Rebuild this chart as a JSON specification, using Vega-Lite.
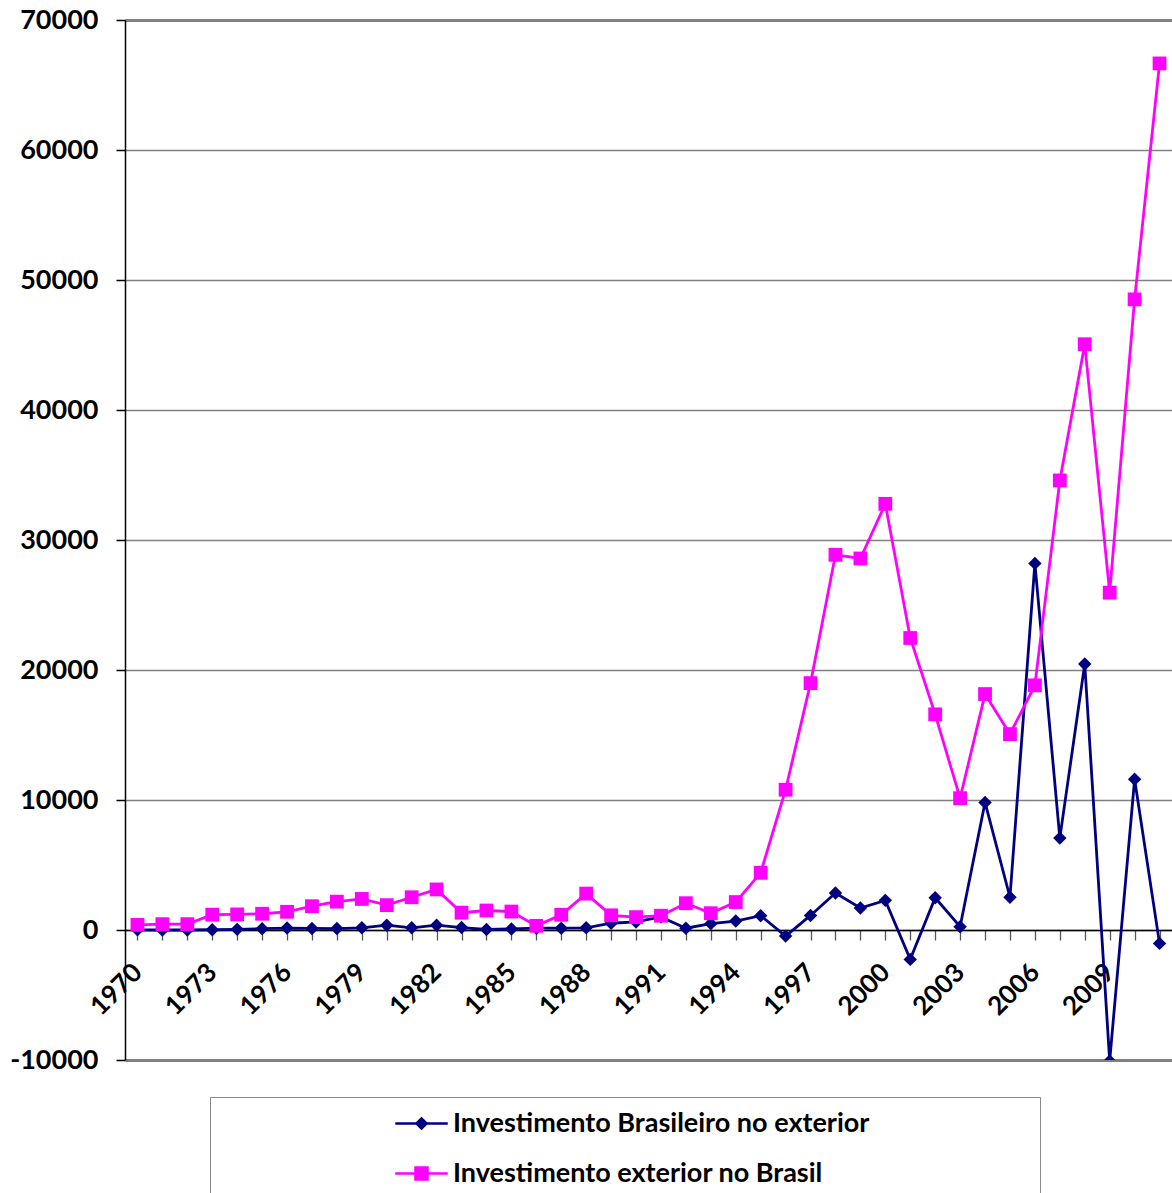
{
  "$schema": "https://vega.github.io/schema/vega-lite/v6.json",
  "width": 1047,
  "height": 1040,
  "autosize": {"type": "none"},
  "padding": {"left": 125, "top": 20, "right": 0, "bottom": 133},
  "background": "white",
  "config": {"view": {"stroke": null}, "font": "Lato"},
  "data": {"values": [
    {"ano": "1970", "serie": "Investimento Brasileiro no exterior", "valor": 10},
    {"ano": "1971", "serie": "Investimento Brasileiro no exterior", "valor": 0},
    {"ano": "1972", "serie": "Investimento Brasileiro no exterior", "valor": 0},
    {"ano": "1973", "serie": "Investimento Brasileiro no exterior", "valor": 20},
    {"ano": "1974", "serie": "Investimento Brasileiro no exterior", "valor": 50},
    {"ano": "1975", "serie": "Investimento Brasileiro no exterior", "valor": 100},
    {"ano": "1976", "serie": "Investimento Brasileiro no exterior", "valor": 150},
    {"ano": "1977", "serie": "Investimento Brasileiro no exterior", "valor": 120},
    {"ano": "1978", "serie": "Investimento Brasileiro no exterior", "valor": 110},
    {"ano": "1979", "serie": "Investimento Brasileiro no exterior", "valor": 170},
    {"ano": "1980", "serie": "Investimento Brasileiro no exterior", "valor": 370},
    {"ano": "1981", "serie": "Investimento Brasileiro no exterior", "valor": 170},
    {"ano": "1982", "serie": "Investimento Brasileiro no exterior", "valor": 370},
    {"ano": "1983", "serie": "Investimento Brasileiro no exterior", "valor": 190},
    {"ano": "1984", "serie": "Investimento Brasileiro no exterior", "valor": 40},
    {"ano": "1985", "serie": "Investimento Brasileiro no exterior", "valor": 80},
    {"ano": "1986", "serie": "Investimento Brasileiro no exterior", "valor": 140},
    {"ano": "1987", "serie": "Investimento Brasileiro no exterior", "valor": 140},
    {"ano": "1988", "serie": "Investimento Brasileiro no exterior", "valor": 170},
    {"ano": "1989", "serie": "Investimento Brasileiro no exterior", "valor": 520},
    {"ano": "1990", "serie": "Investimento Brasileiro no exterior", "valor": 620},
    {"ano": "1991", "serie": "Investimento Brasileiro no exterior", "valor": 1010},
    {"ano": "1992", "serie": "Investimento Brasileiro no exterior", "valor": 140},
    {"ano": "1993", "serie": "Investimento Brasileiro no exterior", "valor": 490},
    {"ano": "1994", "serie": "Investimento Brasileiro no exterior", "valor": 690},
    {"ano": "1995", "serie": "Investimento Brasileiro no exterior", "valor": 1100},
    {"ano": "1996", "serie": "Investimento Brasileiro no exterior", "valor": -470},
    {"ano": "1997", "serie": "Investimento Brasileiro no exterior", "valor": 1120},
    {"ano": "1998", "serie": "Investimento Brasileiro no exterior", "valor": 2850},
    {"ano": "1999", "serie": "Investimento Brasileiro no exterior", "valor": 1690},
    {"ano": "2000", "serie": "Investimento Brasileiro no exterior", "valor": 2280},
    {"ano": "2001", "serie": "Investimento Brasileiro no exterior", "valor": -2260},
    {"ano": "2002", "serie": "Investimento Brasileiro no exterior", "valor": 2480},
    {"ano": "2003", "serie": "Investimento Brasileiro no exterior", "valor": 250},
    {"ano": "2004", "serie": "Investimento Brasileiro no exterior", "valor": 9810},
    {"ano": "2005", "serie": "Investimento Brasileiro no exterior", "valor": 2520},
    {"ano": "2006", "serie": "Investimento Brasileiro no exterior", "valor": 28200},
    {"ano": "2007", "serie": "Investimento Brasileiro no exterior", "valor": 7070},
    {"ano": "2008", "serie": "Investimento Brasileiro no exterior", "valor": 20460},
    {"ano": "2009", "serie": "Investimento Brasileiro no exterior", "valor": -10080},
    {"ano": "2010", "serie": "Investimento Brasileiro no exterior", "valor": 11590},
    {"ano": "2011", "serie": "Investimento Brasileiro no exterior", "valor": -1030},
    {"ano": "1970", "serie": "Investimento exterior no Brasil", "valor": 390},
    {"ano": "1971", "serie": "Investimento exterior no Brasil", "valor": 450},
    {"ano": "1972", "serie": "Investimento exterior no Brasil", "valor": 450},
    {"ano": "1973", "serie": "Investimento exterior no Brasil", "valor": 1180},
    {"ano": "1974", "serie": "Investimento exterior no Brasil", "valor": 1200},
    {"ano": "1975", "serie": "Investimento exterior no Brasil", "valor": 1250},
    {"ano": "1976", "serie": "Investimento exterior no Brasil", "valor": 1400},
    {"ano": "1977", "serie": "Investimento exterior no Brasil", "valor": 1830},
    {"ano": "1978", "serie": "Investimento exterior no Brasil", "valor": 2180},
    {"ano": "1979", "serie": "Investimento exterior no Brasil", "valor": 2390},
    {"ano": "1980", "serie": "Investimento exterior no Brasil", "valor": 1910},
    {"ano": "1981", "serie": "Investimento exterior no Brasil", "valor": 2520},
    {"ano": "1982", "serie": "Investimento exterior no Brasil", "valor": 3120},
    {"ano": "1983", "serie": "Investimento exterior no Brasil", "valor": 1330},
    {"ano": "1984", "serie": "Investimento exterior no Brasil", "valor": 1500},
    {"ano": "1985", "serie": "Investimento exterior no Brasil", "valor": 1420},
    {"ano": "1986", "serie": "Investimento exterior no Brasil", "valor": 320},
    {"ano": "1987", "serie": "Investimento exterior no Brasil", "valor": 1170},
    {"ano": "1988", "serie": "Investimento exterior no Brasil", "valor": 2800},
    {"ano": "1989", "serie": "Investimento exterior no Brasil", "valor": 1130},
    {"ano": "1990", "serie": "Investimento exterior no Brasil", "valor": 990},
    {"ano": "1991", "serie": "Investimento exterior no Brasil", "valor": 1100},
    {"ano": "1992", "serie": "Investimento exterior no Brasil", "valor": 2060},
    {"ano": "1993", "serie": "Investimento exterior no Brasil", "valor": 1290},
    {"ano": "1994", "serie": "Investimento exterior no Brasil", "valor": 2150},
    {"ano": "1995", "serie": "Investimento exterior no Brasil", "valor": 4400},
    {"ano": "1996", "serie": "Investimento exterior no Brasil", "valor": 10790},
    {"ano": "1997", "serie": "Investimento exterior no Brasil", "valor": 18990},
    {"ano": "1998", "serie": "Investimento exterior no Brasil", "valor": 28860},
    {"ano": "1999", "serie": "Investimento exterior no Brasil", "valor": 28580},
    {"ano": "2000", "serie": "Investimento exterior no Brasil", "valor": 32780},
    {"ano": "2001", "serie": "Investimento exterior no Brasil", "valor": 22460},
    {"ano": "2002", "serie": "Investimento exterior no Brasil", "valor": 16590},
    {"ano": "2003", "serie": "Investimento exterior no Brasil", "valor": 10140},
    {"ano": "2004", "serie": "Investimento exterior no Brasil", "valor": 18150},
    {"ano": "2005", "serie": "Investimento exterior no Brasil", "valor": 15070},
    {"ano": "2006", "serie": "Investimento exterior no Brasil", "valor": 18820},
    {"ano": "2007", "serie": "Investimento exterior no Brasil", "valor": 34580},
    {"ano": "2008", "serie": "Investimento exterior no Brasil", "valor": 45060},
    {"ano": "2009", "serie": "Investimento exterior no Brasil", "valor": 25950},
    {"ano": "2010", "serie": "Investimento exterior no Brasil", "valor": 48510},
    {"ano": "2011", "serie": "Investimento exterior no Brasil", "valor": 66660}
  ]},
  "encoding": {
    "y": {
      "field": "valor", "type": "quantitative",
      "scale": {"domain": [-10000, 70000], "nice": false, "zero": false},
      "axis": {
        "title": null,
        "values": [-10000, 0, 10000, 20000, 30000, 40000, 50000, 60000, 70000],
        "labelExpr": "'' + datum.value",
        "labelFontSize": 27, "labelFontWeight": "bold", "labelColor": "black",
        "labelPadding": 18, "tickSize": 9, "tickColor": "black", "tickWidth": 1.5,
        "domainColor": "black", "domainWidth": 1.5,
        "grid": true, "gridColor": "#808080",
        "gridWidth": {"condition": {"test": "datum.value == 70000 || datum.value == -10000", "value": 3}, "value": 1.3}
      }
    },
    "color": {
      "field": "serie", "type": "nominal",
      "scale": {"domain": ["Investimento Brasileiro no exterior", "Investimento exterior no Brasil"], "range": ["#000080", "#FF00FF"]},
      "legend": {
        "title": null, "orient": "none", "legendX": 85, "legendY": 1077, "direction": "vertical",
        "padding": 10, "strokeColor": "#888888", "fillColor": "white",
        "symbolSize": 900, "symbolOffset": 185, "labelOffset": 15, "rowPadding": 20,
        "labelFontSize": 27, "labelFontWeight": "bold", "labelColor": "black", "labelLimit": 2000,
        "labelExpr": "datum.label + '\u2800\u2800\u2800\u2800\u2800\u2800\u2800\u2800'",
        "encode": {"symbols": {"update": {
          "shape": {"signal": "datum.value === 'Investimento Brasileiro no exterior' ? 'M-1.75,0H1.75M0,-0.34L0.34,0L0,0.34L-0.34,0Z' : 'M-1.75,0H1.75M-0.4,-0.4H0.4V0.4H-0.4Z'"},
          "stroke": {"signal": "datum.value === 'Investimento Brasileiro no exterior' ? '#000080' : '#FF00FF'"},
          "fill": {"signal": "datum.value === 'Investimento Brasileiro no exterior' ? '#000080' : '#FF00FF'"},
          "strokeWidth": {"value": 2.5},
          "opacity": {"value": 1}
        }}}
      }
    }
  },
  "layer": [
    {
      "mark": {"type": "line", "strokeWidth": 2.8, "clip": true},
      "encoding": {
        "x": {
          "field": "ano", "type": "ordinal",
          "scale": {"paddingInner": 0, "paddingOuter": 0},
          "axis": {
            "orient": "bottom",
            "title": null, "labels": false, "grid": false, "bandPosition": 0,
            "offset": -130, "tickSize": 10, "tickColor": "#555555", "tickWidth": 1.3,
            "domainColor": "black", "domainWidth": 1.5
          }
        }
      }
    },
    {
      "transform": [{"filter": "datum.serie === 'Investimento Brasileiro no exterior'"}],
      "mark": {"type": "point", "shape": "diamond", "filled": true, "opacity": 1, "size": 180, "clip": true},
      "encoding": {
        "x": {
          "field": "ano", "type": "ordinal",
          "axis": {
            "orient": "bottom",
            "title": null, "ticks": false, "domain": false, "grid": false,
            "offset": -130, "labelAngle": -45, "labelAlign": "right", "labelBaseline": "middle",
            "labelPadding": 38, "labelOverlap": false,
            "labelFontSize": 26, "labelFontWeight": "bold", "labelColor": "black",
            "labelExpr": "(+datum.value - 1970) % 3 == 0 ? datum.value : ''"
          }
        }
      }
    },
    {
      "transform": [{"filter": "datum.serie === 'Investimento exterior no Brasil'"}],
      "mark": {"type": "point", "shape": "square", "filled": true, "opacity": 1, "size": 190, "clip": true},
      "encoding": {
        "x": {"field": "ano", "type": "ordinal", "axis": null}
      }
    }
  ],
  "resolve": {"axis": {"x": "independent"}}
}
